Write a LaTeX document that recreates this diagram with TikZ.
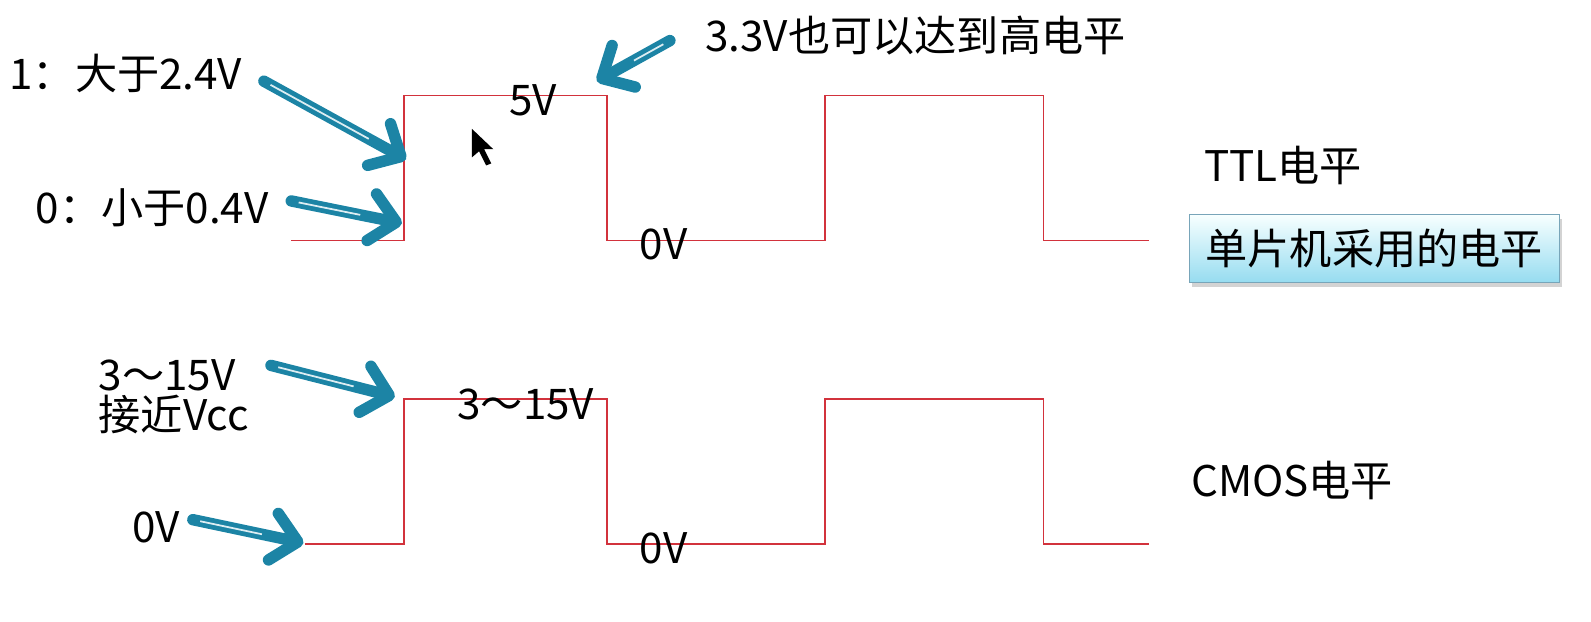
\documentclass[tikz,border=0pt]{standalone}
\usepackage{fontspec}
\setmainfont{Noto Sans CJK SC}
\usetikzlibrary{arrows.meta, shadows}
\definecolor{jiantou}{RGB}{28,132,165}
\definecolor{boxing}{RGB}{210,50,60}
\definecolor{kuangbian}{RGB}{120,165,185}
\definecolor{kuangdi}{RGB}{150,220,240}

\begin{document}
\begin{tikzpicture}[x=0.0203cm, y=-0.0203cm,
    biaoqian/.style={inner sep=0pt, font=\fontsize{24}{28}\selectfont},
    bo/.style={draw=boxing, line width=0.8pt},
    zhizhen/.style={draw=jiantou, line width=6.5pt, line cap=round, line join=round,
        -{Straight Barb[length=0.5cm, width=0.95cm, round]}},
    gaoguang/.style={draw=white!85!jiantou, line width=1pt, shorten >=0.85cm, shorten <=0.15cm}]
    \useasboundingbox (0,0) rectangle (1567.5,612.8);

    % TTL 波形
    \draw[bo] (287,237) -- (398,237) -- (398,94) -- (598,94) -- (598,237) -- (813,237)
        -- (813,94) -- (1028,94) -- (1028,237) -- (1132,237);
    % CMOS 波形
    \draw[bo] (300,536) -- (398,536) -- (398,393) -- (598,393) -- (598,536) -- (813,536)
        -- (813,393) -- (1028,393) -- (1028,536) -- (1132,536);

    % TTL 文字
    \node[biaoqian] (gaolbl) at (124,72) {1：大于2.4V};
    \node[biaoqian] (dilbl) at (150,205) {0：小于0.4V};
    \node[biaoqian] (sanlbl) at (902,35) {3.3V也可以达到高电平};
    \node[biaoqian] (wuv) at (525,99) {5V};
    \node[biaoqian] (ttl0v) at (654,241) {0V};
    \node[biaoqian] (ttl) at (1264,163) {TTL电平};
    \node[draw=kuangbian, top color=cyan!3, bottom color=kuangdi, minimum width=7.4cm,
        minimum height=1.36cm, drop shadow={shadow xshift=1.5pt, shadow yshift=-2.5pt, opacity=0.35},
        font=\fontsize{24}{28}\selectfont] (danpianji) at (1354,245) {单片机采用的电平};

    % CMOS 文字
    \node[biaoqian, anchor=west] (cmosgao) at (97,370) {3～15V};
    \node[biaoqian, anchor=west] (jiejin) at (97,408) {接近Vcc};
    \node[biaoqian] (cmos15) at (518,398) {3～15V};
    \node[biaoqian] (cmos0vl) at (154,520) {0V};
    \node[biaoqian] (cmos0v) at (654,540) {0V};
    \node[biaoqian] (cmos) at (1273,473) {CMOS电平};

    % 箭头端点
    \coordinate (a1s) at (260,80);  \coordinate (a1e) at (400,157);
    \coordinate (a2s) at (287,198); \coordinate (a2e) at (396,220);
    \coordinate (a3s) at (660,40);  \coordinate (a3e) at (588,80);
    \coordinate (a4s) at (267,360); \coordinate (a4e) at (389,391);
    \coordinate (a5s) at (190,512); \coordinate (a5e) at (299,535);

    % 箭头
    \foreach \n in {1,...,5} {
        \draw[zhizhen] (a\n s) -- (a\n e);
        \draw[gaoguang] (a\n s) -- (a\n e);
    }

    % 鼠标指针
    \fill[black] (465,127) -- (465,155) -- (472,149) -- (479,163) -- (484,161)
        -- (477,147) -- (486,147) -- cycle;
\end{tikzpicture}
\end{document}
